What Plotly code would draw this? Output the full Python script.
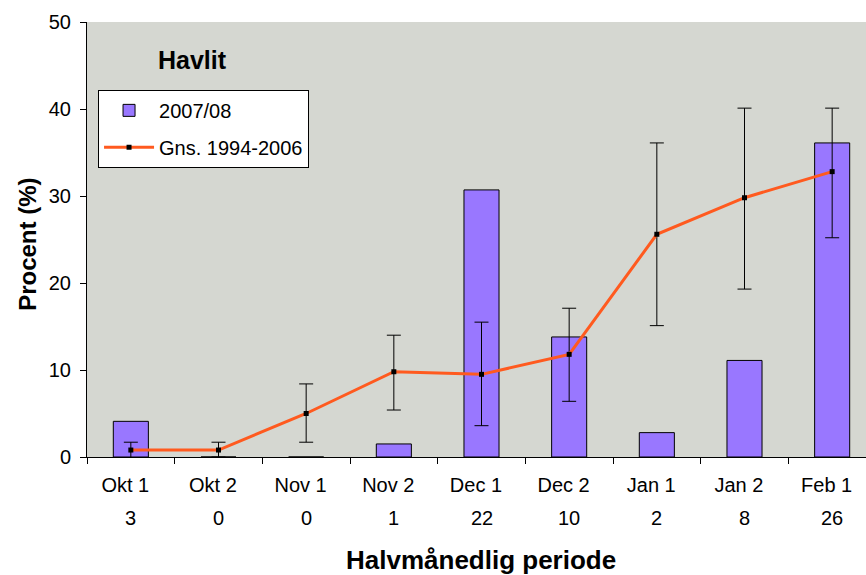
import plotly.graph_objects as go

categories = ["Okt 1", "Okt 2", "Nov 1", "Nov 2", "Dec 1", "Dec 2", "Jan 1", "Jan 2", "Feb 1"]
counts = ["3", "0", "0", "1", "22", "10", "2", "8", "26"]
bars_2007 = [4.1, 0, 0, 1.5, 30.7, 13.8, 2.8, 11.1, 36.1]
avg_1994_2006 = [0.8, 0.8, 5.0, 9.8, 9.5, 11.8, 25.6, 29.8, 32.8]
err_upper = [1.7, 1.7, 8.4, 14.0, 15.5, 17.1, 36.1, 40.1, 40.1]
err_lower = [-0.1, 0.0, 1.7, 5.4, 3.6, 6.4, 15.1, 19.3, 25.2]

plus = [u - a for u, a in zip(err_upper, avg_1994_2006)]
minus = [a - l for a, l in zip(avg_1994_2006, err_lower)]
ticktext = [c + "\u00a0\u00a0" for c in categories]

font_family = "Liberation Sans, Arial, sans-serif"

fig = go.Figure()
fig.add_trace(go.Bar(
    x=categories, y=bars_2007, name="2007/08", legendgroup="a",
    marker=dict(color="#9977ff", line=dict(color="#000000", width=1)),
    width=0.4,
))
fig.add_trace(go.Scatter(
    x=categories, y=avg_1994_2006, name="Gns. 1994-2006", legendgroup="b",
    mode="lines+markers",
    line=dict(color="#ff5a1f", width=3),
    marker=dict(color="#000000", size=5, symbol="square"),
    error_y=dict(type="data", symmetric=False, array=plus, arrayminus=minus,
                 color="#000000", thickness=1, width=7),
))

annotations = [
    dict(text="<b>Havlit</b>", x=0.134, y=0.913, xref="paper", yref="paper",
         xanchor="center", yanchor="middle", showarrow=False,
         font=dict(size=25)),
    dict(text="<b>Halvmånedlig periode</b>", x=0.499, y=-0.237, xref="paper", yref="paper",
         xanchor="center", yanchor="middle", showarrow=False,
         font=dict(size=26)),
    dict(text="<b>Procent (%)</b>", x=-0.0748, y=0.49, xref="paper", yref="paper",
         xanchor="center", yanchor="middle", showarrow=False, textangle=-90,
         font=dict(size=24)),
]
for c, n in zip(categories, counts):
    annotations.append(dict(text=n, x=c, xref="x", y=-0.140, yref="paper",
                            xanchor="center", yanchor="middle", showarrow=False,
                            font=dict(size=20)))

fig.update_layout(
    width=876, height=575,
    margin=dict(l=87, r=0, t=22, b=118),
    paper_bgcolor="#ffffff",
    plot_bgcolor="#d5d7d1",
    font=dict(family=font_family, size=20, color="#000000"),
    showlegend=True,
    legend=dict(x=0.014, y=0.844, xanchor="left", yanchor="top",
                bgcolor="#ffffff", bordercolor="#000000", borderwidth=1,
                font=dict(size=20), tracegroupgap=8, itemwidth=50),
    bargap=0.6,
    annotations=annotations,
)
fig.update_xaxes(
    automargin=False,
    showline=True, linecolor="#000000", linewidth=1,
    ticks="outside", ticklen=6, tickcolor="#000000",
    tickson="boundaries", showgrid=False,
    tickmode="array", tickvals=categories, ticktext=ticktext,
    tickfont=dict(size=20), ticklabelstandoff=10,
)
fig.update_yaxes(
    automargin=False,
    range=[0, 50], dtick=10,
    showline=True, linecolor="#000000", linewidth=1,
    ticks="outside", ticklen=6, tickcolor="#000000",
    showgrid=False, zeroline=False,
    tickfont=dict(size=20), ticklabelstandoff=5,
)

fig.write_html(
    "out.html",
    config={"displayModeBar": False},
    post_script="document.body.style.margin='0';document.body.style.overflow='hidden';"
                "document.documentElement.style.overflow='hidden';",
)
